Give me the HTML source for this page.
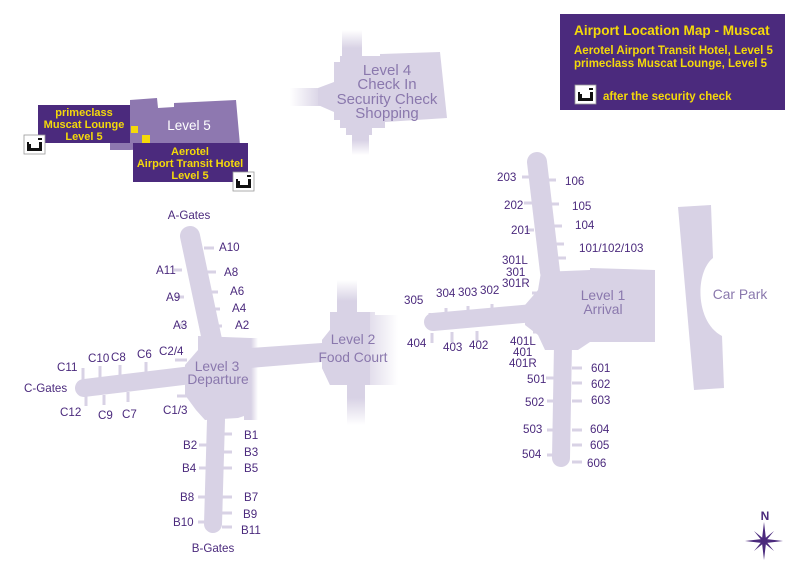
<!DOCTYPE html>
<html><head><meta charset="utf-8"><style>
html,body{margin:0;padding:0;background:#fff}
svg{display:block}
text{font-family:"Liberation Sans",sans-serif}
.g{fill:#4b2a7d;font-size:11.6px}
.h{fill:#8a78ad;font-size:13.8px}
.y{fill:#f4d90a;font-size:11px;font-weight:bold}
</style></head><body>
<svg width="804" height="567" viewBox="0 0 804 567" xmlns="http://www.w3.org/2000/svg">
<defs>
<linearGradient id="fv" x1="0" y1="0" x2="0" y2="1"><stop offset="0" stop-color="#d8d2e5" stop-opacity="0"/><stop offset="0.6" stop-color="#d8d2e5"/></linearGradient>
<linearGradient id="fvd" x1="0" y1="0" x2="0" y2="1"><stop offset="0.4" stop-color="#d8d2e5"/><stop offset="1" stop-color="#d8d2e5" stop-opacity="0"/></linearGradient>
<linearGradient id="fh" x1="0" y1="0" x2="1" y2="0"><stop offset="0" stop-color="#d8d2e5" stop-opacity="0"/><stop offset="0.7" stop-color="#d8d2e5"/></linearGradient>
<linearGradient id="fr" x1="0" y1="0" x2="1" y2="0"><stop offset="0.5" stop-color="#d8d2e5"/><stop offset="1" stop-color="#d8d2e5" stop-opacity="0"/></linearGradient>
</defs>
<g fill="#d8d2e5" stroke="none">
<!-- Level 4 -->
<rect x="342" y="30" width="20" height="30" fill="url(#fv)"/>
<rect x="290" y="88" width="45" height="18" fill="url(#fh)"/>
<rect x="352" y="130" width="17" height="25" fill="url(#fvd)"/>
<polygon points="334,62 340,62 340,56 380,56 380,54 440,52 447,118 385,122 385,128 372,128 372,135 346,135 346,128 340,128 340,120 334,120 334,112 318,105 318,88 334,82"/>
<!-- A pier -->
<path d="M190,236 L212,340" stroke="#d8d2e5" stroke-width="20" stroke-linecap="round" fill="none"/>
<!-- C pier -->
<path d="M84,388 L200,374" stroke="#d8d2e5" stroke-width="18" stroke-linecap="round" fill="none"/>
<!-- B pier -->
<path d="M216,420 L213,524" stroke="#d8d2e5" stroke-width="18" stroke-linecap="round" fill="none"/>
<!-- Level 3 hub -->
<polygon points="198,336 250,338 250,414 238,418 205,420 196,410 185,395 185,365 198,350"/>
<!-- connector 3-2 -->
<polygon points="250,348 322,343 322,362 250,368" />
<rect x="244" y="338" width="14" height="82" fill="url(#fr)"/>
<!-- Level 2 -->
<rect x="337" y="280" width="20" height="35" fill="url(#fv)"/>
<rect x="347" y="380" width="18" height="45" fill="url(#fvd)"/>
<polygon points="330,312 375,312 375,315 398,315 398,385 330,385 322,368 322,340 330,330" fill="url(#fr)"/>
<polygon points="330,312 370,312 370,385 330,385 322,368 322,340 330,330"/>
<!-- 305 pier -->
<path d="M433,322 L545,312" stroke="#d8d2e5" stroke-width="18" stroke-linecap="round" fill="none"/>
<!-- 100/200 pier -->
<path d="M537,162 L550,272" stroke="#d8d2e5" stroke-width="20" stroke-linecap="round" fill="none"/>
<!-- 500/600 pier -->
<path d="M563,345 L561,458" stroke="#d8d2e5" stroke-width="18" stroke-linecap="round" fill="none"/>
<!-- Level 1 hub -->
<polygon points="541,272 590,270 590,268 655,270 655,342 590,342 578,350 545,350 538,335 525,325 525,305 538,290"/>
<!-- Car park -->
<path d="M678,207 L711,205 L713,258 C695,272 695,322 722,336 L724,388 L694,390 Z"/>
</g>
<!-- gate stubs -->
<g stroke="#d8d2e5" stroke-width="3" fill="none">
<path d="M204,248h10M182,270h-8M206,272h10M184,297h-8M208,292h10M210,309h10M186,325h-8M212,326h10M187,360h-12M187,396h-10M83,380v-12M100,378v-12M120,377v-12M146,374v-12M86,396v10M104,395v10M128,392v10M207,445h-8M222,434h10M222,452h10M207,468h-8M222,468h10M206,497h-8M222,497h10M222,513h10M206,522h-8M222,527h10M530,177h-8M548,180h8M532,203h-8M551,204h8M534,230h-8M554,226h8M556,244h8M558,258h8M540,293h-8M430,325v-12M446,320v-12M468,318v-12M492,316v-12M432,333v10M452,332v10M477,331v10M543,332h-10M556,378h-10M572,368h10M557,401h-10M572,383h10M572,401h10M557,430h-10M572,430h10M572,445h10M557,455h-10M572,462h10"/>
</g>
<!-- Level 5 block -->
<polygon points="130,100 157,98 158,108 174,107 174,103 236,100 240,145 130,150 110,150 110,130 130,130" fill="#8e78b0"/>
<rect x="38" y="105" width="92" height="38" fill="#4b2a7d"/>
<rect x="133" y="143" width="115" height="39" fill="#4b2a7d"/>
<rect x="131" y="126" width="7" height="7" fill="#f4d90a"/>
<rect x="142" y="135" width="8" height="8" fill="#f4d90a"/>
<text x="84" y="116" text-anchor="middle" class="y">primeclass</text>
<text x="84" y="128" text-anchor="middle" class="y">Muscat Lounge</text>
<text x="84" y="140" text-anchor="middle" class="y">Level 5</text>
<text x="189" y="130" text-anchor="middle" fill="#fff" font-size="13.5">Level 5</text>
<text x="190" y="155" text-anchor="middle" class="y">Aerotel</text>
<text x="190" y="167" text-anchor="middle" class="y">Airport Transit Hotel</text>
<text x="190" y="179" text-anchor="middle" class="y">Level 5</text>
<!-- icons -->
<g>
<rect x="24" y="135" width="21" height="19" fill="#fff" stroke="#999" stroke-width="0.8"/>
<path d="M27,142v9h15v-9h-3v6h-8v-4h-2v-2z M38,138h4v2h-4z" fill="#111"/>
</g>
<g transform="translate(209,37)">
<rect x="24" y="135" width="21" height="19" fill="#fff" stroke="#999" stroke-width="0.8"/>
<path d="M27,142v9h15v-9h-3v6h-8v-4h-2v-2z M38,138h4v2h-4z" fill="#111"/>
</g>
<!-- info box -->
<rect x="560" y="14" width="225" height="96" fill="#4b2a7d"/>
<text x="574" y="35" fill="#f4d90a" font-size="13.6" font-weight="bold">Airport Location Map - Muscat</text>
<text x="574" y="54" class="y" style="font-size:11.5px">Aerotel Airport Transit Hotel, Level 5</text>
<text x="574" y="67" class="y" style="font-size:11.5px">primeclass Muscat Lounge, Level 5</text>
<g transform="translate(551,-50)">
<rect x="24" y="135" width="21" height="19" fill="#fff" stroke="#999" stroke-width="0.8"/>
<path d="M27,142v9h15v-9h-3v6h-8v-4h-2v-2z M38,138h4v2h-4z" fill="#111"/>
</g>
<text x="603" y="100" class="y" style="font-size:11.5px">after the security check</text>
<!-- hub labels -->
<g class="h" style="font-size:15px" text-anchor="middle">
<text x="387" y="75">Level 4</text>
<text x="387" y="89">Check In</text>
<text x="387" y="104">Security Check</text>
<text x="387" y="118">Shopping</text>
</g>
<text x="217" y="371" text-anchor="middle" class="h">Level 3</text>
<text x="218" y="384" text-anchor="middle" class="h">Departure</text>
<text x="353" y="344" text-anchor="middle" class="h">Level 2</text>
<text x="353" y="362" text-anchor="middle" class="h">Food Court</text>
<text x="603" y="300" text-anchor="middle" class="h">Level 1</text>
<text x="603" y="314" text-anchor="middle" class="h">Arrival</text>
<text x="740" y="299" text-anchor="middle" class="h">Car Park</text>
<!-- gate labels -->
<g class="g">
<text x="189" y="219" text-anchor="middle">A-Gates</text>
<text x="219" y="251">A10</text>
<text x="156" y="274">A11</text>
<text x="224" y="276">A8</text>
<text x="166" y="301">A9</text>
<text x="230" y="295">A6</text>
<text x="232" y="312">A4</text>
<text x="173" y="329">A3</text>
<text x="235" y="329">A2</text>
<text x="159" y="355">C2/4</text>
<text x="137" y="358">C6</text>
<text x="111" y="361">C8</text>
<text x="88" y="362">C10</text>
<text x="57" y="371">C11</text>
<text x="24" y="392">C-Gates</text>
<text x="60" y="416">C12</text>
<text x="98" y="419">C9</text>
<text x="122" y="418">C7</text>
<text x="163" y="414">C1/3</text>
<text x="244" y="439">B1</text>
<text x="183" y="449">B2</text>
<text x="244" y="456">B3</text>
<text x="182" y="472">B4</text>
<text x="244" y="472">B5</text>
<text x="180" y="501">B8</text>
<text x="244" y="501">B7</text>
<text x="243" y="518">B9</text>
<text x="173" y="526">B10</text>
<text x="241" y="534">B11</text>
<text x="213" y="552" text-anchor="middle">B-Gates</text>
<text x="497" y="181">203</text>
<text x="565" y="185">106</text>
<text x="504" y="209">202</text>
<text x="572" y="210">105</text>
<text x="511" y="234">201</text>
<text x="575" y="229">104</text>
<text x="579" y="252">101/102/103</text>
<text x="502" y="264">301L</text>
<text x="506" y="276">301</text>
<text x="502" y="287">301R</text>
<text x="404" y="304">305</text>
<text x="436" y="297">304</text>
<text x="458" y="296">303</text>
<text x="480" y="294">302</text>
<text x="407" y="347">404</text>
<text x="443" y="351">403</text>
<text x="469" y="349">402</text>
<text x="510" y="345">401L</text>
<text x="513" y="356">401</text>
<text x="509" y="367">401R</text>
<text x="591" y="372">601</text>
<text x="527" y="383">501</text>
<text x="591" y="388">602</text>
<text x="591" y="404">603</text>
<text x="525" y="406">502</text>
<text x="523" y="433">503</text>
<text x="590" y="433">604</text>
<text x="590" y="449">605</text>
<text x="522" y="458">504</text>
<text x="587" y="467">606</text>
</g>
<!-- compass -->
<text x="765" y="520" text-anchor="middle" fill="#4b2a7d" font-size="12" font-weight="bold">N</text>
<g fill="#4b2a7d" transform="translate(764,541)">
<polygon points="0,-19 2,-2 19,0 2,2 0,19 -2,2 -19,0 -2,-2"/>
<polygon points="-10,-10 1,-1 10,10 -1,1" />
<polygon points="10,-10 1,1 -10,10 -1,-1" />
</g>
</svg>
</body></html>
